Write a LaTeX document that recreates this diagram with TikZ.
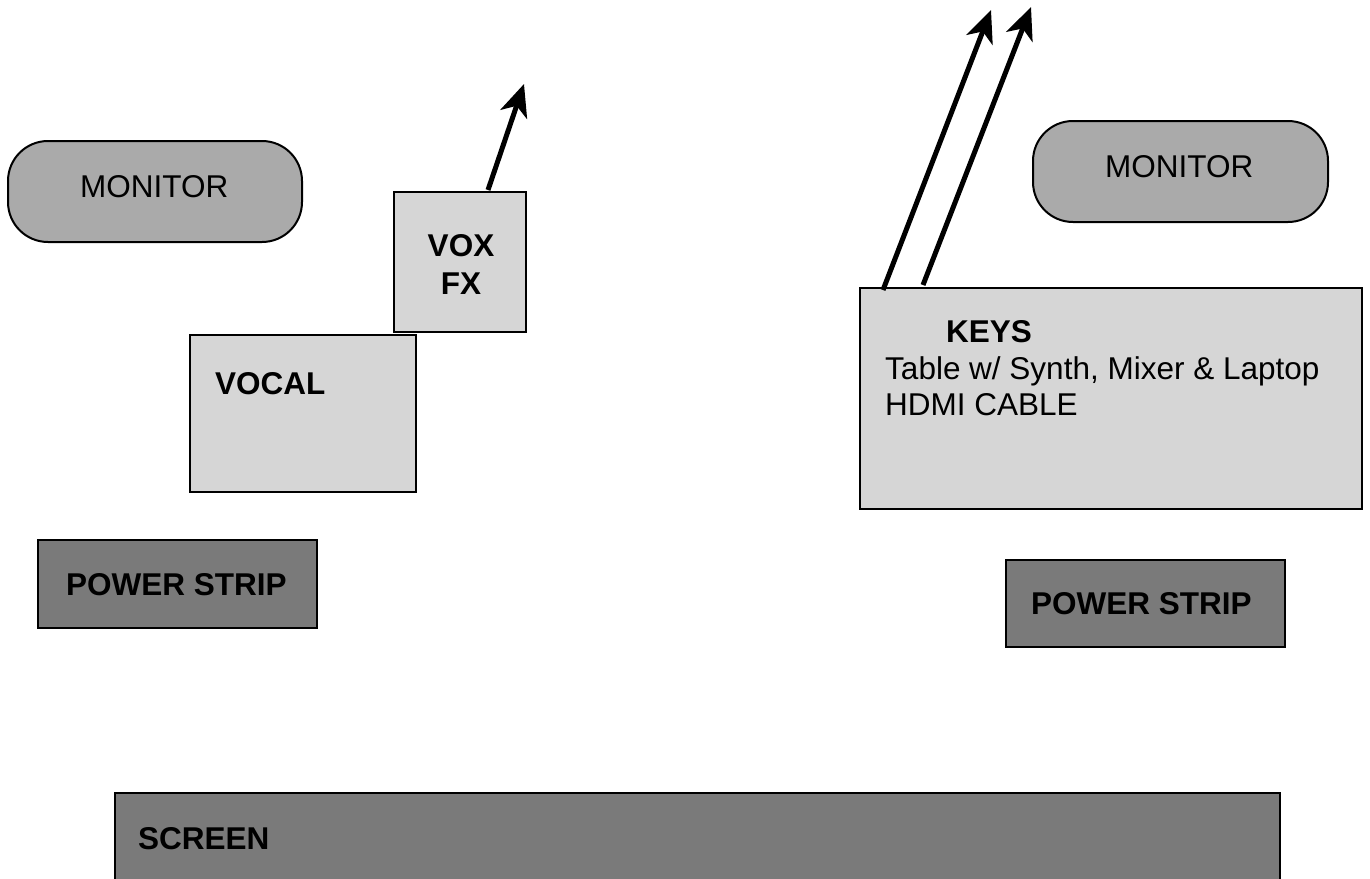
\documentclass[tikz,border=0pt]{standalone}
\usepackage{fontspec}
\setmainfont{Liberation Sans}
\usetikzlibrary{arrows.meta}
\definecolor{lightbox}{HTML}{D6D6D6}
\definecolor{midbox}{HTML}{AAAAAA}
\definecolor{darkbox}{HTML}{7A7A7A}
\begin{document}
\begin{tikzpicture}[x=1pt,y=-1pt,
  every node/.style={font=\fontsize{31.5}{36}\selectfont},
  box/.style={draw=black,line width=2pt,inner sep=0pt,outer sep=0pt},
  lbox/.style={box,fill=lightbox},
  mon/.style={box,fill=midbox,rounded corners=40pt},
  dbox/.style={box,fill=darkbox},
  lbl/.style={inner sep=0pt,anchor=base west},
  bfl/.style={lbl,font=\fontsize{31.5}{36}\selectfont\bfseries},
  cable/.style={line width=5pt,-{Stealth[length=32pt,width=28pt,inset=9pt]}}]
\useasboundingbox (0,0) rectangle (1370,878);
\clip (0,0) rectangle (1370,878);
% left monitor
\draw[mon] (8,141) rectangle (302,242);
\node[lbl] (monL) at (80,197) {MONITOR};
% vox fx
\draw[lbox] (394,192) rectangle (526,332);
\node[inner sep=0pt,align=center,font=\fontsize{31.5}{38}\selectfont\bfseries] (vox) at (461,264) {VOX\\FX};
% vocal
\draw[lbox] (190,335) rectangle (416,492);
\node[bfl] (vocal) at (215,394) {VOCAL};
% left power strip
\draw[dbox] (38,540) rectangle (317,628);
\node[bfl] (psL) at (66,595) {POWER STRIP};
% right monitor
\draw[mon] (1033,121) rectangle (1328,222);
\node[lbl] (monR) at (1105,177) {MONITOR};
% keys
\draw[lbox] (860,288) rectangle (1362,509);
\node[bfl] (keys) at (946,342) {KEYS};
\node[lbl] (table) at (885,379) {Table w/ Synth, Mixer \& Laptop};
\node[lbl] (hdmi) at (885,415) {HDMI CABLE};
% right power strip
\draw[dbox] (1006,560) rectangle (1285,647);
\node[bfl] (psR) at (1031,614) {POWER STRIP};
% screen
\draw[dbox] (115,793) rectangle (1280,900);
\node[bfl] (screen) at (138,849) {SCREEN};
% cables
\coordinate (voxout) at (488,190);
\coordinate (voxend) at (524,84);
\coordinate (k1) at (883,290);
\coordinate (k1end) at (991,10);
\coordinate (k2) at (923,285);
\coordinate (k2end) at (1031,7);
\draw[cable] (voxout) -- (voxend);
\draw[cable] (k1) -- (k1end);
\draw[cable] (k2) -- (k2end);
\end{tikzpicture}
\end{document}
